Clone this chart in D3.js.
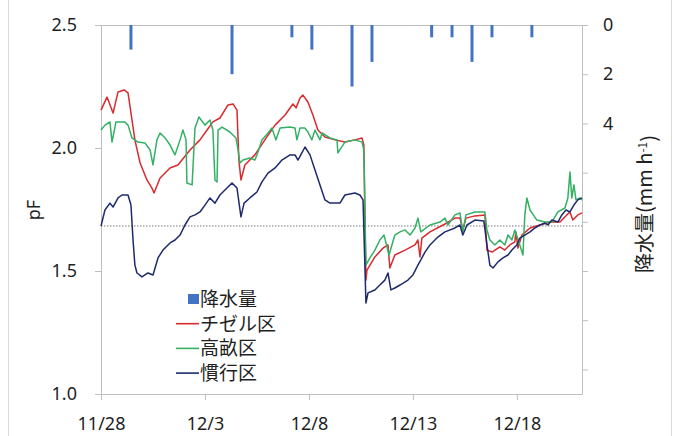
<!DOCTYPE html>
<html>
<head>
<meta charset="utf-8">
<script src="https://cdn.jsdelivr.net/npm/d3@7"></script>
<style>
  body { margin: 0; background: #fff; }
  svg text { font-family: "Noto Sans", "Noto Sans CJK JP", sans-serif; fill: #1f1f1f; }
  .axis path, .axis line { stroke: #bfbfbf; }
</style>
</head>
<body>
<div id="chart"></div>
<script>
// x = days since 11/28 00:00, y = pF
var xTickDays = [0, 5, 10, 15, 20];
var xTickLabels = ["11/28", "12/3", "12/8", "12/13", "12/18"];
var pfTicks = [1.0, 1.5, 2.0, 2.5];
var rainTicks = [0, 2, 4, 6, 8, 10, 12, 14];
var rainLabels = ["0", "2", "4"];
var refPF = 1.683;

var seriesNames = ["チゼル区", "高畝区", "慣行区"];
var seriesColors = ["#d92a2f", "#33b064", "#1d2b6c"];

// rain (mm h-1)
var rainDays = [1.44, 6.3, 9.18, 10.14, 12.07, 13.03, 15.9, 16.88, 17.84, 18.8, 20.72];
var rainVals = [1.0, 2.0, 0.5, 1.0, 2.5, 1.5, 0.5, 0.5, 1.5, 0.5, 0.5];

var chisel = [
  [0,2.154],[0.29,2.207],[0.58,2.142],[0.82,2.228],[1.11,2.236],[1.30,2.224],[1.49,2.114],[1.63,2.033],
  [1.88,1.939],[2.21,1.870],[2.45,1.837],[2.55,1.817],[2.84,1.878],[3.32,1.919],[3.70,1.931],[4.28,1.992],
  [4.76,2.033],[5.10,2.073],[5.38,2.106],[5.72,2.122],[6.11,2.175],[6.35,2.179],[6.54,2.154],[6.63,1.951],
  [6.73,1.870],[6.92,1.931],[7.40,1.972],[7.88,2.033],[8.37,2.093],[8.85,2.134],[9.23,2.179],[9.38,2.163],
  [9.57,2.203],[9.71,2.215],[9.95,2.187],[10.19,2.134],[10.43,2.073],[10.77,2.045],[11.25,2.033],[11.73,2.024],
  [12.21,2.033],[12.55,2.041],[12.64,2.012],[12.74,1.463],[12.79,1.504],[13.17,1.557],[13.56,1.593],[13.80,1.606],
  [13.89,1.512],[14.13,1.565],[14.62,1.585],[15.10,1.606],[15.24,1.626],[15.34,1.557],[15.43,1.634],[15.82,1.659],
  [16.54,1.691],[17.02,1.715],[17.26,1.715],[17.40,1.667],[17.55,1.715],[17.98,1.724],[18.46,1.728],[18.56,1.585],
  [18.80,1.577],[19.18,1.598],[19.42,1.585],[19.66,1.606],[19.90,1.618],[19.95,1.659],[20.05,1.593],[20.24,1.646],
  [20.63,1.675],[21.11,1.687],[21.59,1.699],[22.07,1.699],[22.40,1.728],[22.55,1.740],[22.69,1.707],[22.93,1.728],
  [23.13,1.736]
];

var takaune = [
  [0,2.073],[0.19,2.093],[0.43,2.106],[0.53,2.024],[0.72,2.106],[1.15,2.106],[1.30,2.093],[1.49,2.041],
  [1.78,2.024],[2.12,2.020],[2.36,1.992],[2.50,1.931],[2.69,2.033],[2.84,2.061],[3.08,2.041],[3.32,2.012],
  [3.56,1.972],[3.80,2.033],[3.94,2.073],[4.09,2.033],[4.13,1.858],[4.38,1.850],[4.52,2.081],[4.71,2.126],
  [5.00,2.093],[5.24,2.114],[5.38,2.073],[5.48,1.870],[5.58,1.862],[5.63,2.073],[5.82,2.085],[6.20,2.065],
  [6.49,2.041],[6.59,1.992],[6.68,1.939],[6.83,1.951],[7.16,1.959],[7.40,1.951],[7.55,1.984],[7.74,2.033],
  [8.03,2.061],[8.22,2.081],[8.41,2.033],[8.61,2.081],[9.09,2.085],[9.33,2.081],[9.42,2.033],[9.57,2.081],
  [9.81,2.081],[9.95,2.065],[10.14,2.033],[10.29,2.073],[10.53,2.033],[10.63,2.061],[11.01,2.041],[11.35,2.033],
  [11.39,1.980],[11.73,2.024],[12.21,2.033],[12.55,2.024],[12.64,1.992],[12.74,1.524],[12.93,1.553],[13.17,1.585],
  [13.41,1.626],[13.61,1.646],[13.85,1.565],[14.13,1.646],[14.38,1.659],[14.62,1.667],[14.86,1.646],[15.10,1.675],
  [15.24,1.715],[15.38,1.659],[15.82,1.687],[16.30,1.699],[16.54,1.715],[16.68,1.687],[17.02,1.728],[17.26,1.736],
  [17.40,1.659],[17.55,1.728],[17.98,1.740],[18.46,1.740],[18.56,1.667],[18.70,1.626],[18.94,1.606],[19.18,1.626],
  [19.42,1.606],[19.57,1.646],[19.76,1.626],[19.90,1.667],[20.14,1.606],[20.29,1.565],[20.38,1.728],[20.48,1.797],
  [20.63,1.748],[20.96,1.707],[21.35,1.699],[21.68,1.699],[21.97,1.740],[22.31,1.756],[22.45,1.797],[22.55,1.902],
  [22.64,1.797],[22.74,1.850],[22.84,1.789],[23.03,1.797],[23.13,1.789]
];

var kanko = [
  [0,1.683],[0.19,1.748],[0.43,1.776],[0.58,1.760],[0.82,1.797],[1.01,1.809],[1.30,1.809],[1.44,1.768],
  [1.54,1.626],[1.63,1.524],[1.73,1.492],[1.97,1.476],[2.26,1.492],[2.50,1.484],[2.60,1.512],[2.74,1.553],
  [2.98,1.585],[3.32,1.614],[3.56,1.626],[3.80,1.646],[4.04,1.687],[4.28,1.720],[4.52,1.728],[4.76,1.740],
  [5.00,1.768],[5.24,1.797],[5.48,1.776],[5.72,1.809],[5.96,1.829],[6.30,1.858],[6.54,1.837],[6.73,1.720],
  [6.88,1.776],[7.16,1.797],[7.50,1.821],[7.74,1.862],[8.03,1.898],[8.37,1.919],[8.70,1.951],[9.09,1.972],
  [9.33,1.972],[9.47,1.951],[9.66,1.980],[9.81,2.004],[10.05,1.972],[10.29,1.911],[10.53,1.850],[10.77,1.789],
  [11.01,1.776],[11.49,1.776],[11.73,1.809],[12.21,1.817],[12.45,1.809],[12.60,1.789],[12.74,1.370],[12.84,1.411],
  [13.17,1.423],[13.41,1.443],[13.65,1.463],[13.80,1.492],[13.94,1.423],[14.13,1.431],[14.38,1.443],[14.76,1.463],
  [15.00,1.484],[15.24,1.524],[15.38,1.545],[15.58,1.577],[15.82,1.606],[16.20,1.638],[16.54,1.659],[17.02,1.675],
  [17.26,1.687],[17.40,1.646],[17.60,1.687],[17.98,1.707],[18.41,1.703],[18.56,1.606],[18.70,1.524],[18.85,1.512],
  [19.09,1.537],[19.33,1.553],[19.57,1.565],[19.76,1.585],[20.00,1.606],[20.14,1.634],[20.38,1.646],[20.63,1.659],
  [20.87,1.675],[21.11,1.687],[21.35,1.695],[21.49,1.687],[21.68,1.707],[21.97,1.699],[22.16,1.728],[22.36,1.748],
  [22.55,1.740],[22.74,1.768],[22.93,1.789],[23.13,1.797]
];

var svgWidth = 674, svgHeight = 436;
var margin = {top: 25, right: 92, bottom: 42, left: 101};
var width = svgWidth - margin.left - margin.right,
    height = svgHeight - margin.top - margin.bottom;

var svg = d3.select("#chart").append("svg")
    .attr("width", svgWidth)
    .attr("height", svgHeight);

// outer frame edges
svg.append("line").attr("x1", 8.5).attr("x2", 8.5).attr("y1", 0).attr("y2", svgHeight)
   .attr("stroke", "#d9d9d9");
svg.append("line").attr("x1", 671.5).attr("x2", 671.5).attr("y1", 0).attr("y2", svgHeight)
   .attr("stroke", "#d9d9d9");

var g = svg.append("g")
    .attr("transform", "translate(" + margin.left + "," + margin.top + ")");

var x = d3.scaleLinear().domain([0, 23.13]).range([0, width]);
var y = d3.scaleLinear().domain([1.0, 2.5]).range([height, 0]);
var yR = d3.scaleLinear().domain([0, 15]).range([0, height]);

// axes
var xAxis = d3.axisBottom(x).tickValues(xTickDays)
    .tickFormat(function(d, i) { return xTickLabels[i]; })
    .tickSize(6).tickPadding(17).tickSizeOuter(0);
var yAxis = d3.axisLeft(y).tickValues(pfTicks).tickFormat(d3.format(".1f"))
    .tickSize(6).tickPadding(18).tickSizeOuter(0);
var yAxisR = d3.axisRight(yR).tickValues(rainTicks)
    .tickFormat(function(d) { return rainLabels.indexOf(String(d)) >= 0 ? d : ""; })
    .tickSize(6).tickPadding(15).tickSizeOuter(0);

g.append("g").attr("class", "axis").attr("transform", "translate(0," + height + ")").call(xAxis);
g.append("g").attr("class", "axis").call(yAxis);
g.append("g").attr("class", "axis").attr("transform", "translate(" + width + ",0)").call(yAxisR);

// top frame line
g.append("line").attr("x1", -6).attr("x2", width + 6).attr("y1", 0.5).attr("y2", 0.5)
   .attr("stroke", "#bfbfbf");

svg.selectAll(".axis text").style("font-size", "18px");
svg.selectAll(".axis .domain").attr("stroke", "#bfbfbf");

// reference dotted line
g.append("line")
   .attr("x1", 0).attr("x2", width)
   .attr("y1", y(refPF)).attr("y2", y(refPF))
   .attr("stroke", "#777").attr("stroke-width", 1).attr("stroke-dasharray", "1.5,1.5");

// rain bars
g.selectAll(".rain")
  .data(rainDays)
  .enter().append("rect")
  .attr("class", "rain")
  .attr("x", function(d) { return x(d) - 1.5; })
  .attr("y", yR(0))
  .attr("width", 3)
  .attr("height", function(d, i) { return yR(rainVals[i]) - yR(0); })
  .attr("fill", "#4472c4");

// pF lines
var line = d3.line()
    .x(function(d) { return x(d[0]); })
    .y(function(d) { return y(d[1]); });

[chisel, takaune, kanko].forEach(function(s, i) {
  g.append("path")
    .datum(s)
    .attr("fill", "none")
    .attr("stroke", seriesColors[i])
    .attr("stroke-width", 1.5)
    .attr("stroke-linejoin", "round")
    .attr("d", line);
});

// axis titles
svg.append("text")
   .attr("transform", "translate(40,210) rotate(-90)")
   .attr("text-anchor", "middle")
   .style("font-size", "18px")
   .text("pF");

var rt = svg.append("text")
   .attr("transform", "translate(652,204) rotate(-90)")
   .attr("text-anchor", "middle")
   .style("font-family", "'Noto Sans CJK JP', sans-serif")
   .style("font-size", "20px");
rt.append("tspan").text("降水量(mm h");
rt.append("tspan").attr("dy", "-0.45em").style("font-size", "12px").text("-1");
rt.append("tspan").attr("dy", "0.45em").text(")");

// legend
var legendItems = ["降水量"].concat(seriesNames);
var legend = svg.append("g").attr("transform", "translate(176,299)");
legendItems.forEach(function(name, i) {
  var row = legend.append("g").attr("transform", "translate(0," + (i * 24.7) + ")");
  if (i === 0) {
    row.append("rect").attr("x", 12).attr("y", -5).attr("width", 11).attr("height", 10)
       .attr("fill", "#4472c4");
  } else {
    row.append("line").attr("x1", 0).attr("x2", 23).attr("y1", 0).attr("y2", 0)
       .attr("stroke", seriesColors[i - 1]).attr("stroke-width", 1.6);
  }
  row.append("text")
     .attr("x", 24).attr("y", 0).attr("dy", "0.36em")
     .style("font-family", "'Noto Sans CJK JP', sans-serif")
     .style("font-size", "19px")
     .text(name);
});
</script>
</body>
</html>
